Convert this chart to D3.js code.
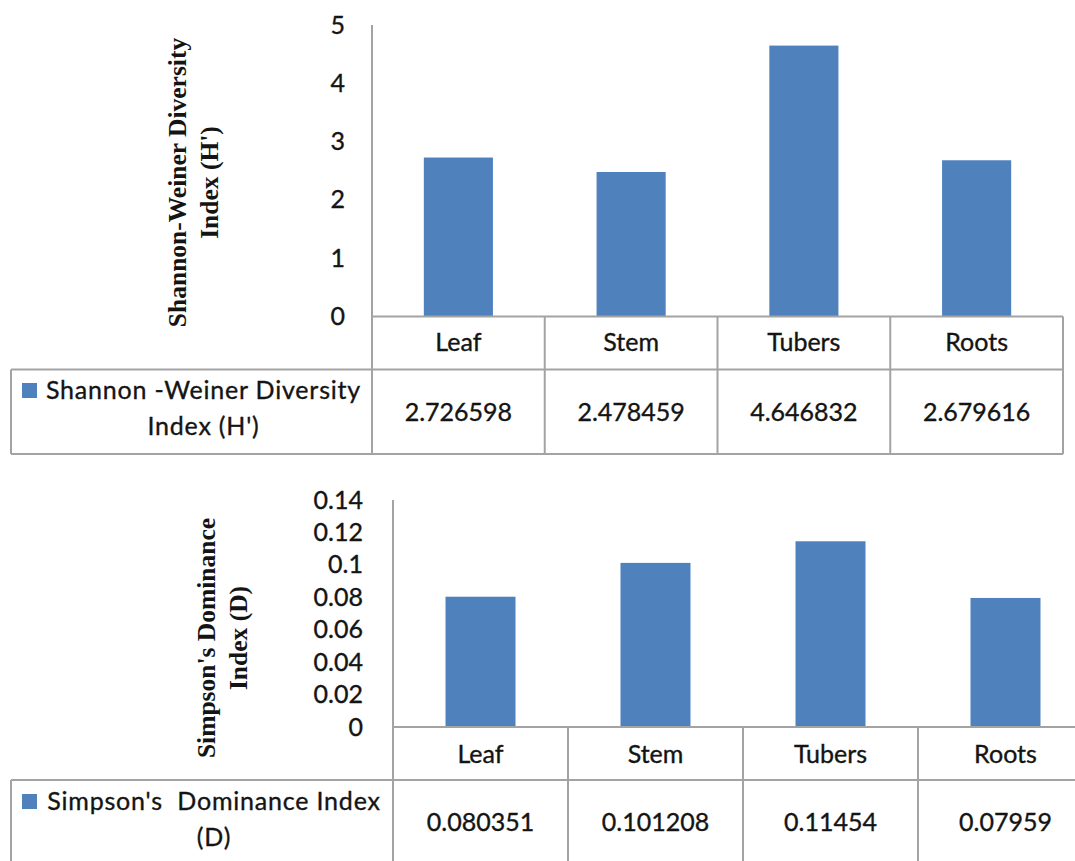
<!DOCTYPE html>
<html>
<head>
<meta charset="utf-8">
<script src="https://cdn.jsdelivr.net/npm/d3@7/dist/d3.min.js"></script>
<style>
  html, body { margin: 0; padding: 0; background: #ffffff; }
  svg { display: block; }
  .sans { paint-order: stroke; stroke: #141414; stroke-width: 0.35px; }
</style>
</head>
<body>
<svg id="chart" width="1075" height="861"></svg>
<script>
// Plant parts shared by both charts
const categories = ["Leaf", "Stem", "Tubers", "Roots"];

// Shannon-Weiner diversity index (H')
const shannonValues = [2.726598, 2.478459, 4.646832, 2.679616];
const shannonTicks = [0, 1, 2, 3, 4, 5];
const shannonTitle = ["Shannon-Weiner Diversity", "Index (H')"];
const shannonLegend = ["Shannon -Weiner Diversity", "Index (H')"];

// Simpson's dominance index (D)
const simpsonValues = [0.080351, 0.101208, 0.11454, 0.07959];
const simpsonTicks = [0, 0.02, 0.04, 0.06, 0.08, 0.1, 0.12, 0.14];
const simpsonTitle = ["Simpson's Dominance", "Index (D)"];
const simpsonLegend = ["Simpson's\u00a0 Dominance Index", "(D)"];

const svg = d3.select("#chart");
const BAR = "#4F81BD";
const GRID = "#a3a3a3";
const INK = "#141414";
const SANS = "Lato, 'Open Sans', sans-serif";
const SERIF = "'Liberation Serif', 'DejaVu Serif', serif";

function drawPanel(cfg) {
  const g = svg.append("g");

  const y = d3.scaleLinear()
    .domain([0, d3.max(cfg.ticks)])
    .range([cfg.zeroY, cfg.topY]);

  const x = d3.scaleBand()
    .domain(categories)
    .range([cfg.axisX, cfg.right])
    .padding(0);

  const barW = x.bandwidth() * 0.4;

  // bars
  g.selectAll("rect.bar")
    .data(cfg.values)
    .join("rect")
    .attr("class", "bar")
    .attr("x", (d, i) => x(categories[i]) + (x.bandwidth() - barW) / 2)
    .attr("width", barW)
    .attr("y", d => y(d))
    .attr("height", d => y(0) - y(d))
    .attr("fill", BAR);

  // value axis labels
  const axis = d3.axisLeft(y)
    .tickValues(cfg.ticks)
    .tickFormat(d => String(d))
    .tickSize(0)
    .tickPadding(cfg.tickPad);
  const ag = g.append("g")
    .attr("transform", `translate(${cfg.axisX},0)`)
    .call(axis);
  ag.select(".domain").remove();
  ag.selectAll("text")
    .attr("class", "sans")
    .attr("font-family", SANS)
    .attr("font-size", 25)
    .attr("fill", INK);

  // data table grid
  const lines = [];
  lines.push([cfg.axisX, cfg.zeroY, cfg.right, cfg.zeroY]);
  lines.push([cfg.legendLeft, cfg.rowY, cfg.right, cfg.rowY]);
  lines.push([cfg.legendLeft, cfg.bottomY, cfg.right, cfg.bottomY]);
  lines.push([cfg.axisX, cfg.topY, cfg.axisX, cfg.bottomY]);
  lines.push([cfg.legendLeft, cfg.rowY, cfg.legendLeft, cfg.bottomY]);
  categories.forEach(c => {
    const xr = x(c) + x.bandwidth();
    lines.push([xr, cfg.zeroY, xr, cfg.bottomY]);
  });
  g.selectAll("line.grid")
    .data(lines)
    .join("line")
    .attr("class", "grid")
    .attr("x1", d => d[0]).attr("y1", d => d[1])
    .attr("x2", d => d[2]).attr("y2", d => d[3])
    .attr("stroke", GRID)
    .attr("stroke-width", 2);

  // category row
  g.selectAll("text.cat")
    .data(categories)
    .join("text")
    .attr("class", "cat sans")
    .attr("x", d => x(d) + x.bandwidth() / 2)
    .attr("y", cfg.catBase)
    .attr("text-anchor", "middle")
    .attr("font-family", SANS)
    .attr("font-size", 25)
    .attr("fill", INK)
    .text(d => d);

  // value row
  g.selectAll("text.val")
    .data(cfg.values)
    .join("text")
    .attr("class", "val sans")
    .attr("x", (d, i) => x(categories[i]) + x.bandwidth() / 2)
    .attr("y", cfg.valBase)
    .attr("text-anchor", "middle")
    .attr("font-family", SANS)
    .attr("font-size", 25)
    .attr("fill", INK)
    .text(d => String(d));

  // legend key and series name
  g.append("rect")
    .attr("x", 22)
    .attr("y", cfg.legendBase - 16)
    .attr("width", 15)
    .attr("height", 15)
    .attr("fill", BAR);
  const legendCx = (45 + cfg.axisX - 10) / 2;
  g.selectAll("text.leg")
    .data(cfg.legend)
    .join("text")
    .attr("class", "leg sans")
    .attr("x", legendCx)
    .attr("y", (d, i) => cfg.legendBase + i * 35.5)
    .attr("text-anchor", "middle")
    .attr("font-family", SANS)
    .attr("font-size", 25)
    .attr("letter-spacing", 0.8)
    .attr("fill", INK)
    .text(d => d);

  // rotated axis title
  g.selectAll("text.title")
    .data(cfg.title)
    .join("text")
    .attr("class", "title")
    .attr("transform", (d, i) => `translate(${cfg.titleX + i * 32},${cfg.titleCy}) rotate(-90)`)
    .attr("text-anchor", "middle")
    .attr("font-family", SERIF)
    .attr("font-weight", "bold")
    .attr("font-size", 25.5)
    .attr("fill", INK)
    .text(d => d);
}

drawPanel({
  values: shannonValues, ticks: shannonTicks, title: shannonTitle, legend: shannonLegend,
  axisX: 372, right: 1063, zeroY: 316.5, topY: 25, rowY: 369.5, bottomY: 454,
  legendLeft: 11, tickPad: 27, catBase: 351, valBase: 421, legendBase: 399,
  titleX: 186, titleCy: 182.5
});

drawPanel({
  values: simpsonValues, ticks: simpsonTicks, title: simpsonTitle, legend: simpsonLegend,
  axisX: 393, right: 1093, zeroY: 727, topY: 500, rowY: 780, bottomY: 900,
  legendLeft: 11, tickPad: 30, catBase: 763, valBase: 831, legendBase: 810,
  titleX: 215, titleCy: 638
});
</script>
</body>
</html>
